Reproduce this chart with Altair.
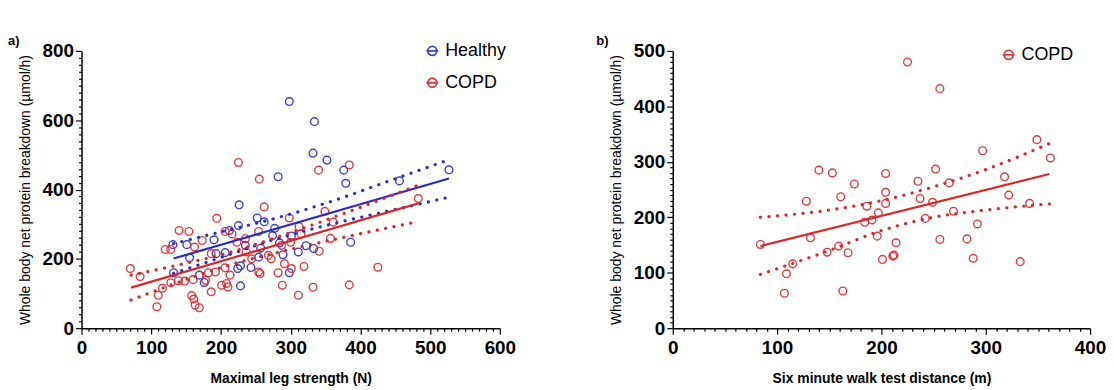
import altair as alt
import pandas as pd

BLUE = "#2a2ac4"
RED = "#d6282a"
FONT = "Liberation Sans"

# ---------- Panel a: maximal leg strength ----------
healthy_x = [298, 282, 226, 334, 332, 352, 376, 379, 456, 527, 386, 322, 333, 311, 131, 151, 155, 132, 169, 176,
             190, 193, 206, 212, 225, 235, 224, 228, 228, 243, 252, 262, 257, 254, 274, 277, 284, 289, 301, 298]
healthy_y = [654, 437, 356, 596, 505, 485, 456, 418, 425, 457, 248, 238, 230, 220, 241, 241, 203, 160, 153, 132,
             255, 215, 218, 282, 296, 239, 172, 180, 122, 175, 318, 307, 231, 205, 267, 288, 246, 212, 266, 160]

copd_x = [225, 255, 262, 340, 384, 483, 349, 361, 315, 357, 341, 319, 425, 332, 384, 311,
          70, 84, 108, 110, 116, 128, 120, 128, 140, 154, 162, 173, 139, 148, 160, 158, 161, 163, 169, 178,
          186, 194, 186, 182, 192, 206, 213, 201, 208, 210, 206, 216, 223, 235, 236, 244, 254, 256, 254, 268,
          272, 282, 288, 291, 287, 298, 300, 301, 312]
copd_y = [478, 430, 350, 456, 471, 374, 337, 306, 272, 259, 222, 178, 176, 118, 125, 95,
          172, 149, 62, 95, 115, 131, 227, 227, 282, 279, 234, 253, 137, 136, 140, 94, 84, 67, 59, 138,
          105, 317, 215, 160, 162, 174, 153, 124, 129, 119, 279, 272, 248, 258, 220, 200, 162, 158, 279, 210,
          200, 160, 124, 186, 239, 318, 248, 172, 293]

healthy_fit_x = [132, 527]
healthy_fit_y = [201, 432]
healthy_band_x = [132, 200, 280, 360, 440, 527]
healthy_upper = [244, 278, 318, 367, 424, 486]
healthy_lower = [158, 204, 258, 301, 338, 378]

copd_fit_x = [71, 483]
copd_fit_y = [117, 360]
copd_band_x = [71, 140, 210, 280, 360, 481]
copd_upper = [153, 183, 217, 262, 319, 411]
copd_lower = [81, 133, 181, 218, 255, 307]

# ---------- Panel b: six minute walk distance ----------
walk_x = [84, 107, 109, 115, 128, 132, 140, 148, 153, 159, 161, 163, 168, 174, 184, 186, 191, 196, 197, 201,
          204, 204, 204, 211, 212, 214, 225, 235, 237, 242, 249, 252, 256, 256, 265, 269, 282, 288, 292, 297,
          318, 322, 333, 342, 349, 362]
walk_y = [151, 63, 98, 116, 229, 163, 285, 137, 280, 148, 237, 67, 136, 260, 191, 220, 195, 166, 208, 124,
          279, 245, 225, 130, 132, 154, 480, 265, 234, 198, 227, 287, 432, 160, 262, 211, 161, 126, 188, 320,
          273, 240, 120, 225, 340, 307]

walk_fit_x = [84, 361]
walk_fit_y = [148, 278]
walk_band_x = [84, 150, 200, 250, 300, 361]
walk_upper = [200, 213, 230, 255, 286, 333]
walk_lower = [97, 140, 176, 200, 213, 224]

# ---------- axis ticks ----------
xa_ticks = list(range(0, 601, 10))
ya_ticks = list(range(0, 801, 20))
xb_ticks = list(range(0, 401, 10))
yb_ticks = list(range(0, 501, 10))

PATH = "M -0.75 0 A 0.75 0.75 0 1 1 0.75 0 A 0.75 0.75 0 1 1 -0.75 0 M -1 0 L 1 0"


def axis(values, major, title, bold_title, tpad, lpad):
    return alt.Axis(
        values=values,
        labelExpr=f"datum.value % {major} === 0 ? datum.label : ''",
        tickSize={"condition": {"test": f"datum.value % {major} === 0", "value": 6}, "value": 3},
        tickColor="black", tickWidth=1.2, domainColor="black", domainWidth=1.5,
        labelFont=FONT, labelFontSize=19, labelFontWeight="bold", labelColor="black",
        labelPadding=lpad, labelOverlap=False, labelBound=False, labelFlush=False,
        title=title, titleFont=FONT, titleFontSize=14,
        titleFontWeight="bold" if bold_title else "normal", titleColor="black",
        titlePadding=tpad, grid=False,
    )


class Panel:
    def __init__(self, xdom, ydom, xax, yax):
        self.X = lambda: alt.X("x:Q", scale=alt.Scale(domain=xdom, nice=False), axis=xax)
        self.Y = lambda: alt.Y("y:Q", scale=alt.Scale(domain=ydom, nice=False), axis=yax)

    def pts(self, df, domain, colors, legend):
        return alt.Chart(df).mark_point(shape="circle", filled=False, size=60, strokeWidth=1.4, opacity=0.9).encode(
            x=self.X(), y=self.Y(),
            color=alt.Color("group:N", scale=alt.Scale(domain=domain, range=colors), legend=legend),
        )

    def line(self, xs, ys, color, dotted=False):
        df = pd.DataFrame({"x": xs, "y": ys})
        if dotted:
            m = alt.Chart(df).mark_line(color=color, strokeWidth=3.2, strokeDash=[0.1, 8.5],
                                        strokeCap="round", interpolate="monotone")
        else:
            m = alt.Chart(df).mark_line(color=color, strokeWidth=2.2)
        return m.encode(x=self.X(), y=self.Y())


def label(t, xoff):
    return alt.Chart(pd.DataFrame({"t": [t]})).mark_text(
        font=FONT, fontSize=13, fontWeight="bold", align="left", baseline="middle", color="black"
    ).encode(text="t:N", x=alt.value(xoff), y=alt.value(-10))


def legend(lx, ly):
    return alt.Legend(title=None, orient="none", legendX=lx, legendY=ly, symbolType=PATH, symbolSize=144,
                      symbolStrokeWidth=1.8, symbolFillColor="transparent", labelFont=FONT,
                      labelFontSize=18, labelColor="black", labelOffset=4, rowPadding=14, padding=0)


df_a = pd.concat([
    pd.DataFrame({"x": healthy_x, "y": healthy_y, "group": "Healthy"}),
    pd.DataFrame({"x": copd_x, "y": copd_y, "group": "COPD"}),
])
df_b = pd.DataFrame({"x": walk_x, "y": walk_y, "group": "COPD"})

pa = Panel([0, 600], [0, 800],
           axis(xa_ticks, 100, "Maximal leg strength (N)", True, 14, 5),
           axis(ya_ticks, 200, "Whole body net protein breakdown (µmol/h)", False, 10, 2))
pb = Panel([0, 400], [0, 500],
           axis(xb_ticks, 100, "Six minute walk test distance (m)", True, 14, 5),
           axis(yb_ticks, 100, "Whole body net protein breakdown (µmol/h)", False, 10, 2))

panel_a = alt.layer(
    pa.pts(df_a, ["Healthy", "COPD"], [BLUE, RED], legend(344, -9)),
    pa.line(healthy_fit_x, healthy_fit_y, BLUE),
    pa.line(healthy_band_x, healthy_upper, BLUE, True),
    pa.line(healthy_band_x, healthy_lower, BLUE, True),
    pa.line(copd_fit_x, copd_fit_y, RED),
    pa.line(copd_band_x, copd_upper, RED, True),
    pa.line(copd_band_x, copd_lower, RED, True),
    label("a)", -74),
).properties(width=421, height=279)

panel_b = alt.layer(
    pb.pts(df_b, ["COPD"], [RED], legend(329, -5)),
    pb.line(walk_fit_x, walk_fit_y, RED),
    pb.line(walk_band_x, walk_upper, RED, True),
    pb.line(walk_band_x, walk_lower, RED, True),
    label("b)", -77),
).properties(width=420, height=279)

chart = alt.hconcat(panel_a, panel_b, spacing=174, bounds="flush").resolve_scale(
    color="independent"
).properties(
    padding={"left": 0, "top": 26, "right": 0, "bottom": 0}
).configure_view(stroke=None)

chart.save("out.html", embed_options={"renderer": "svg", "actions": False})
